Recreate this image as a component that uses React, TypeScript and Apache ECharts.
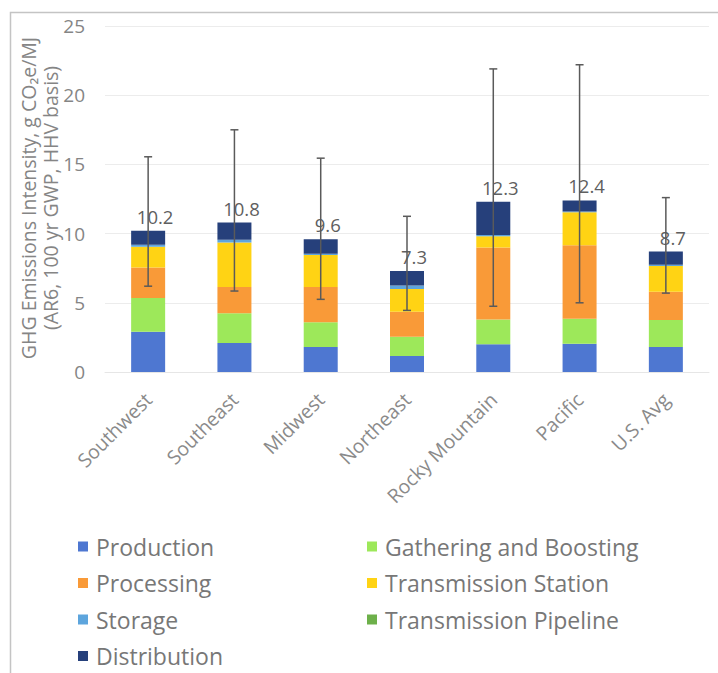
import React, { useEffect, useRef } from "react";
import * as echarts from "echarts";

const categories = ["Southwest", "Southeast", "Midwest", "Northeast", "Rocky Mountain", "Pacific", "U.S. Avg"];
const production = [2.9, 2.1, 1.8, 1.15, 2.0, 2.05, 1.8];
const gatheringBoosting = [2.45, 2.15, 1.8, 1.4, 1.8, 1.8, 1.95];
const processing = [2.2, 1.9, 2.55, 1.8, 5.2, 5.3, 2.05];
const transmissionStation = [1.5, 3.2, 2.3, 1.65, 0.8, 2.4, 1.85];
const storage = [0.15, 0.2, 0.1, 0.25, 0.1, 0.05, 0.1];
const transmissionPipeline = [0, 0, 0, 0, 0, 0, 0];
const distribution = [1.0, 1.25, 1.05, 1.05, 2.4, 0.8, 0.95];
const totals = [10.2, 10.8, 9.6, 7.3, 12.3, 12.4, 8.7];
const errLow = [6.2, 5.85, 5.25, 4.45, 4.75, 5.0, 5.7];
const errHigh = [15.55, 17.5, 15.45, 11.25, 21.9, 22.2, 12.6];
const yTicks = [0, 5, 10, 15, 20, 25];
const yTitleLines = ["GHG Emissions Intensity, g CO\u2082e/MJ", "(AR6, 100 yr GWP, HHV basis)"];

const FONT = "'Open Sans', sans-serif";

export default function App() {
  const ref = useRef<HTMLDivElement>(null);
  useEffect(() => {
    if (!ref.current) return;
    const chart = echarts.init(ref.current, null, { renderer: "svg" });
    const seriesDefs = [
      { name: "Production", data: production, color: "#4E77D1" },
      { name: "Gathering and Boosting", data: gatheringBoosting, color: "#9DE85A" },
      { name: "Processing", data: processing, color: "#F99A38" },
      { name: "Transmission Station", data: transmissionStation, color: "#FFD314" },
      { name: "Storage", data: storage, color: "#5DA5DD" },
      { name: "Transmission Pipeline", data: transmissionPipeline, color: "#6DB04A" },
      { name: "Distribution", data: distribution, color: "#26407B" },
    ];
    const barSeries = seriesDefs.map((s, idx) => ({
      type: "bar",
      name: s.name,
      stack: "total",
      data: s.data,
      barWidth: 34,
      itemStyle: { color: s.color },
      label:
        idx === seriesDefs.length - 1
          ? {
              show: true,
              position: "top",
              distance: 5,
              offset: [7, 0],
              formatter: (p: any) => totals[p.dataIndex].toFixed(1),
              fontFamily: FONT,
              fontSize: 18.5,
              color: "#5f5f5f",
            }
          : { show: false },
    }));
    const legendText = { fontFamily: FONT, fontSize: 23, color: "#777777", padding: [0, 0, 0, 3] };
    const option: any = {
      animation: false,
      backgroundColor: "#ffffff",
      textStyle: { fontFamily: FONT },
      grid: { left: 105, right: 9, top: 26, bottom: 301, containLabel: false },
      xAxis: {
        type: "category",
        data: categories,
        axisLine: { show: true, lineStyle: { color: "#e6e6e6", width: 1 } },
        axisTick: { show: false },
        axisLabel: {
          rotate: 45,
          interval: 0,
          margin: 24,
          fontFamily: FONT,
          fontSize: 19.5,
          color: "#8a8a8a",
        },
      },
      yAxis: {
        type: "value",
        min: 0,
        max: 25,
        interval: 5,
        axisLine: { show: false },
        axisTick: { show: false },
        splitLine: { lineStyle: { color: "#ececec", width: 1 } },
        axisLabel: {
          fontFamily: FONT,
          fontSize: 19,
          color: "#858585",
          margin: 20,
          formatter: (v: number) => (yTicks.includes(v) ? String(v) : ""),
        },
      },
      legend: [
        {
          orient: "vertical",
          left: 78,
          top: 535,
          padding: 0,
          itemGap: 13.5,
          itemWidth: 10,
          itemHeight: 10,
          icon: "rect",
          data: ["Production", "Processing", "Storage", "Distribution"],
          textStyle: legendText,
        },
        {
          orient: "vertical",
          left: 367,
          top: 535,
          padding: 0,
          itemGap: 13.5,
          itemWidth: 10,
          itemHeight: 10,
          icon: "rect",
          data: ["Gathering and Boosting", "Transmission Station", "Transmission Pipeline"],
          textStyle: legendText,
        },
      ],
      graphic: [
        {
          type: "rect",
          left: 8,
          top: 10,
          shape: { x: 0, y: 0, width: 760, height: 720 },
          style: { fill: "none", stroke: "#c4c4c4", lineWidth: 1.5 },
          silent: true,
          z: -1,
        },
        ...yTitleLines.map((t, i) => ({
          type: "text",
          x: 28 + i * 22,
          y: 198,
          rotation: Math.PI / 2,
          silent: true,
          style: {
            text: t,
            fontFamily: FONT,
            fontSize: 19.5,
            fill: "#858585",
            textAlign: "center",
            textVerticalAlign: "middle",
          },
        })),
      ],
      series: [
        ...barSeries,
        {
          type: "custom",
          name: "Error",
          data: categories.map((_, i) => [i, errLow[i], errHigh[i]]),
          encode: { x: 0, y: [1, 2] },
          z: 10,
          renderItem: (params: any, api: any) => {
            const x = api.value(0);
            const lo = api.coord([x, api.value(1)]);
            const hi = api.coord([x, api.value(2)]);
            const cap = 4;
            const style = { stroke: "#5a5a5a", lineWidth: 1.5 };
            return {
              type: "group",
              children: [
                { type: "line", shape: { x1: lo[0], y1: lo[1], x2: hi[0], y2: hi[1] }, style },
                { type: "line", shape: { x1: lo[0] - cap, y1: lo[1], x2: lo[0] + cap, y2: lo[1] }, style },
                { type: "line", shape: { x1: hi[0] - cap, y1: hi[1], x2: hi[0] + cap, y2: hi[1] }, style },
              ],
            };
          },
        },
      ],
    };
    chart.setOption(option);
    return () => chart.dispose();
  }, []);
  return (
    <div
      ref={ref}
      style={{ position: "fixed", left: 0, top: 0, width: 718, height: 673, background: "#fff" }}
    />
  );
}
